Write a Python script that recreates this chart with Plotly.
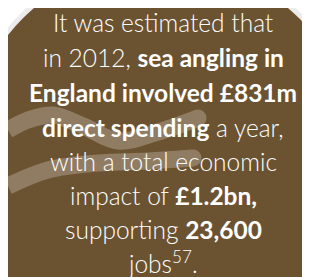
import plotly.graph_objects as go

# ---- data ----
text_lines = [
    "It was estimated that",
    "in 2012, <b>sea angling in</b>",
    "<b>England involved £831m</b>",
    "<b>direct spending</b> a year,",
    "with a total economic",
    "impact of <b>£1.2bn,</b>",
    "supporting <b>23,600</b>",
    "jobs<sup>57</sup>.",
]
line_baselines = [30, 65, 100, 135, 169, 203, 237, 271]

wave1_x = [0, 20, 45, 75, 110, 150, 190]
wave1_y = [122, 112, 107, 118, 133, 124, 110]
wave2_x = [0, 40, 90, 140, 185]
wave2_y = [178, 162, 155, 153, 150]

BROWN = "#6b5332"
WAVE = "#8f7c62"
CX, CY, R = 153, 148, 195
W, H = 310, 277

fig = go.Figure()

for wx, wy in [(wave1_x, wave1_y), (wave2_x, wave2_y)]:
    fig.add_trace(go.Scatter(
        x=wx, y=wy, mode="lines",
        line=dict(color=WAVE, width=17, shape="spline", smoothing=1.0),
        hoverinfo="skip", showlegend=False,
    ))
    fig.add_trace(go.Scatter(
        x=[wx[-1]], y=[wy[-1]], mode="markers",
        marker=dict(color=WAVE, size=17, line=dict(width=0)),
        hoverinfo="skip", showlegend=False,
    ))

shapes = [
    dict(type="circle", xref="x", yref="y", x0=CX - R - 5, x1=CX + R + 5,
         y0=CY - R - 5, y1=CY + R + 5, fillcolor="#ececec", line=dict(width=0),
         layer="below"),
    dict(type="circle", xref="x", yref="y", x0=CX - R, x1=CX + R,
         y0=CY - R, y1=CY + R, fillcolor=BROWN, line=dict(width=0),
         layer="below"),
]

annotations = []
for t, b in zip(text_lines, line_baselines):
    annotations.append(dict(
        x=0.5, y=1 - (b + 1) / H, xref="paper", yref="paper", text=t,
        showarrow=False, xanchor="center", yanchor="bottom",
        font=dict(family="Lato", size=24.5, color="#ffffff", weight=300),
    ))

fig.update_layout(
    width=W, height=H,
    margin=dict(l=0, r=0, t=0, b=0),
    paper_bgcolor="white", plot_bgcolor="rgba(0,0,0,0)",
    xaxis=dict(range=[0, W], visible=False, fixedrange=True),
    yaxis=dict(range=[H, 0], visible=False, fixedrange=True),
    shapes=shapes, annotations=annotations,
)

fig.write_html("out.html", config={"displayModeBar": False})
